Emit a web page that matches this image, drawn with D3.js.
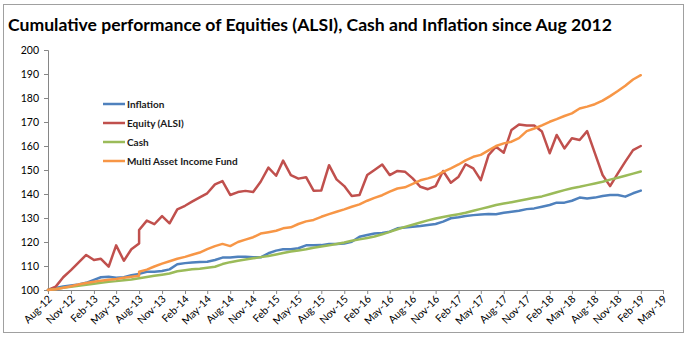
<!DOCTYPE html>
<html>
<head>
<meta charset="utf-8">
<script src="https://cdn.jsdelivr.net/npm/d3@7"></script>
<style>
  body { margin: 0; background: #fff; }
  text { font-family: Lato, "Open Sans", sans-serif; }
</style>
</head>
<body>
<svg id="chart"></svg>
<script>
var W = 687, H = 340;

// monthly index levels (base 100 in Aug-12); Aug-13 has two readings
var months = ['Aug-12','Sep-12','Oct-12','Nov-12','Dec-12',
  'Jan-13','Feb-13','Mar-13','Apr-13','May-13','Jun-13','Jul-13','Aug-13','Aug-13','Sep-13','Oct-13','Nov-13','Dec-13',
  'Jan-14','Feb-14','Mar-14','Apr-14','May-14','Jun-14','Jul-14','Aug-14','Sep-14','Oct-14','Nov-14','Dec-14',
  'Jan-15','Feb-15','Mar-15','Apr-15','May-15','Jun-15','Jul-15','Aug-15','Sep-15','Oct-15','Nov-15','Dec-15',
  'Jan-16','Feb-16','Mar-16','Apr-16','May-16','Jun-16','Jul-16','Aug-16','Sep-16','Oct-16','Nov-16','Dec-16',
  'Jan-17','Feb-17','Mar-17','Apr-17','May-17','Jun-17','Jul-17','Aug-17','Sep-17','Oct-17','Nov-17','Dec-17',
  'Jan-18','Feb-18','Mar-18','Apr-18','May-18','Jun-18','Jul-18','Aug-18','Sep-18','Oct-18','Nov-18','Dec-18',
  'Jan-19','Feb-19'];

var inflation = [100,100.8,101.5,101.9,102.3,103,104.2,105.3,105.5,105.1,105.3,106.2,106.7,106.7,
  107.6,107.6,107.9,108.6,110.7,111.2,111.5,111.7,111.8,112.5,
  113.5,113.5,113.9,113.9,113.6,113.6,
  115.3,116.4,117,117,117.4,118.6,118.6,118.7,119.2,119.2,119.4,120.1,
  122.2,122.9,123.5,123.8,124.3,125.7,126,126.4,126.7,127.1,127.5,128.5,
  129.9,130.3,130.8,131.2,131.5,131.7,131.6,132.2,132.6,133,133.7,134,
  134.7,135.4,136.4,136.4,137.2,138.5,138.1,138.5,139.2,139.6,139.6,138.9,
  140.3,141.4];

var equity = [100,101.4,105.3,108.3,111.4,114.6,112.5,113,109.7,118.6,112.2,117,119.4,125,
  128.9,127.4,130.8,127.8,133.6,135.1,136.8,138.6,140.3,144,
  145.4,139.6,140.8,141.3,140.8,145.1,
  151,147.6,153.9,147.9,146.4,147,141.4,141.5,152,146.1,143.3,139.2,
  139.6,147.9,150,152.3,147.9,149.6,149.3,146.5,143,142,143.3,149.6,
  144.7,147.2,152.4,150.7,145.8,156.2,159.7,157.2,166.7,169,168.5,168.5,
  166,157,164.6,159,163.2,162.5,166.2,157,147.9,143.3,148.6,153.5,
  158.3,160];

var cash = [100,100.4,100.9,101.3,101.8,102.2,102.6,103,103.4,103.7,104.1,104.4,104.9,104.9,
  105.4,105.9,106.4,106.9,107.8,108.2,108.6,108.9,109.3,109.7,
  110.8,111.6,112.2,112.7,113.2,113.7,
  114.2,114.8,115.4,116,116.5,117,117.6,118.1,118.6,119.2,119.8,120.5,
  121.1,121.7,122.3,123.2,124.2,125.3,126.3,127.2,128.1,129,129.8,130.4,
  131,131.6,132.2,133,133.8,134.6,135.4,136,136.6,137.2,137.8,138.4,
  139,139.9,140.7,141.6,142.4,143,143.7,144.4,145.1,146,146.8,147.6,
  148.5,149.4];

var multiAsset = [100,100.3,100.9,101.6,102.3,102.9,103.4,103.9,104.3,104.6,105.1,105.5,105.9,107.6,
  108.5,109.8,111,112,113,113.8,114.7,115.6,117,118.3,
  119.2,118.3,120,121,122,123.5,
  124.1,124.7,125.7,126.1,127.5,128.6,129.2,130.5,131.6,132.6,133.6,134.7,
  135.7,137.2,138.4,139.5,141,142.3,142.8,144.2,145.7,146.5,147.5,149.2,
  150.7,152.3,154,155.5,156.3,158.2,160,161.1,161.8,163.3,166.2,167.3,
  168.6,170.1,171.2,172.5,173.6,175.6,176.4,177.4,178.9,180.8,182.9,185.1,
  187.7,189.5];

var seriesNames = ['Inflation', 'Equity (ALSI)', 'Cash', 'Multi Asset Income Fund'];
var seriesColors = ['#4F81BD', '#C0504D', '#9BBB59', '#F79646'];

var xTickLabels = ['Aug-12','Nov-12','Feb-13','May-13','Aug-13','Nov-13','Feb-14','May-14','Aug-14','Nov-14',
  'Feb-15','May-15','Aug-15','Nov-15','Feb-16','May-16','Aug-16','Nov-16','Feb-17','May-17','Aug-17',
  'Nov-17','Feb-18','May-18','Aug-18','Nov-18','Feb-19','May-19'];
var yTicks = [100,110,120,130,140,150,160,170,180,190,200];

var titleText = 'Cumulative performance of Equities (ALSI), Cash and Inflation since Aug 2012';

var parseMonth = d3.timeParse('%b-%y');
var dates = months.map(parseMonth);
var tickDates = xTickLabels.map(parseMonth);

var svg = d3.select('#chart')
            .attr('width', W)
            .attr('height', H);

svg.append('rect')
   .attr('width', W).attr('height', H)
   .attr('fill', '#fff');

// outer frame
svg.append('rect')
   .attr('x', 3.5).attr('y', 4.5)
   .attr('width', 680).attr('height', 328)
   .attr('fill', 'none')
   .attr('stroke', '#a0a0a0')
   .attr('stroke-width', 1);

// title, sized down until it spans about 604px
var title = svg.append('text')
   .attr('x', 8)
   .attr('y', 31)
   .attr('font-size', 20)
   .attr('font-weight', 'bold')
   .attr('fill', '#000')
   .text(titleText);
var tw = title.node().getComputedTextLength();
if (tw > 604) title.attr('font-size', 20 * 604 / tw);

var x = d3.scaleTime()
          .domain([tickDates[0], tickDates[tickDates.length - 1]])
          .range([48, 663]);

var y = d3.scaleLinear()
          .domain([100, 200])
          .range([290, 50]);

// y axis
var yAxis = svg.append('g')
               .attr('transform', 'translate(48,0)')
               .call(d3.axisLeft(y).tickValues(yTicks).tickSize(4).tickPadding(5).tickFormat(d3.format('d')));
yAxis.select('.domain').attr('stroke', '#868686');
yAxis.selectAll('.tick line').attr('stroke', '#868686');
yAxis.selectAll('text')
     .attr('font-size', 10.5)
     .attr('fill', '#000')
     .style('font-family', 'Lato, sans-serif');

// x axis
var xAxis = svg.append('g')
               .attr('transform', 'translate(0,290)')
               .call(d3.axisBottom(x).tickValues(tickDates).tickSize(4).tickFormat(d3.timeFormat('%b-%y')));
xAxis.select('.domain').attr('stroke', '#868686');
xAxis.selectAll('.tick line').attr('stroke', '#868686');
xAxis.selectAll('text')
     .attr('x', -4)
     .attr('y', 6)
     .attr('dy', '0.35em')
     .attr('transform', 'rotate(-45)')
     .style('text-anchor', 'end')
     .attr('font-size', 10.5)
     .attr('fill', '#000')
     .style('font-family', 'Lato, sans-serif');

var series = [inflation, equity, cash, multiAsset];

var lineGenerator = d3.line()
                      .x(function(d, i){ return x(dates[i]); })
                      .y(function(d){ return y(d); });

series.forEach(function(values, k){
    svg.append('path')
       .attr('d', lineGenerator(values))
       .attr('fill', 'none')
       .attr('stroke', seriesColors[k])
       .attr('stroke-width', 2.5)
       .attr('stroke-linejoin', 'round')
       .attr('stroke-linecap', 'round');
});

// legend
var legend = svg.append('g').attr('transform', 'translate(103,104)');
seriesNames.forEach(function(name, k){
    var row = legend.append('g').attr('transform', 'translate(0,' + (k * 19) + ')');
    row.append('line')
       .attr('x1', 0).attr('x2', 22)
       .attr('stroke', seriesColors[k])
       .attr('stroke-width', 2.5);
    row.append('text')
       .attr('x', 24)
       .attr('dy', '0.35em')
       .attr('font-size', 10)
       .attr('font-weight', 'bold')
       .attr('fill', '#1a1a1a')
       .text(name);
});
</script>
</body>
</html>
